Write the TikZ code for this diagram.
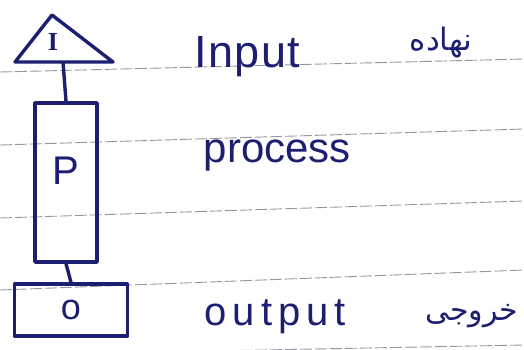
\documentclass[tikz,border=0pt]{standalone}
\usepackage{fontspec}
\setmainfont{Liberation Sans}
\newfontfamily\farsi[Script=Arabic]{DejaVu Sans}
\newfontfamily\serifI{Liberation Serif}
\TeXXeTstate=1
\definecolor{ink}{RGB}{28,30,112}
\definecolor{rule}{RGB}{150,150,162}
\newcommand{\fs}[1]{\fontsize{#1}{#1}\selectfont}
\begin{document}
\begin{tikzpicture}[x=1pt, y=-1pt, line width=3.4pt, line join=round,
    box/.style={draw=ink, inner sep=0pt, text=ink},
    word/.style={text=ink, inner sep=0pt, anchor=base west},
    ruled/.style={rule, line width=0.9pt, dash pattern=on 12pt off 3pt}]
  \useasboundingbox (0,0) rectangle (524,349);
  % ruled paper
  \foreach \ya/\yb in {72/59, 145/129, 218/201, 290/270, 355/345}
    \draw[ruled] (0,\ya) -- (524,\yb);
  % input triangle
  \draw[ink] (15,62) -- (52,15) -- (113,62) -- cycle;
  \node[text=ink, font={\serifI\bfseries\fs{26}}] (inp) at (53,42) {I};
  \coordinate (inpbase) at (63,62);
  % process and output boxes
  \node[box, minimum width=62pt, minimum height=159pt, text depth=24pt, font=\fs{40}] (proc) at (66,182.5) {P};
  \node[box, minimum width=113pt, minimum height=52pt, font=\fs{36}] (out) at (71,310) {o};
  \draw[ink] (inpbase) -- (proc.north);
  \draw[ink] (proc.south) -- (out.north);
  % words
  \node[word, font={\fs{45}\addfontfeature{LetterSpace=3}}] (winp) at (193,67) {Input};
  \node[word, font=\fs{42}] (wproc) at (202,162) {process};
  \node[word, font={\fs{40}\addfontfeature{LetterSpace=15}}] (wout) at (203,325) {output};
  \node[word, anchor=base east, font={\farsi\fs{31}}] (finp) at (474,50) {\beginR نهاده\endR};
  \node[word, anchor=base east, font={\farsi\fs{30}}] (fout) at (520,320) {\beginR خروجی\endR};
\end{tikzpicture}
\end{document}
